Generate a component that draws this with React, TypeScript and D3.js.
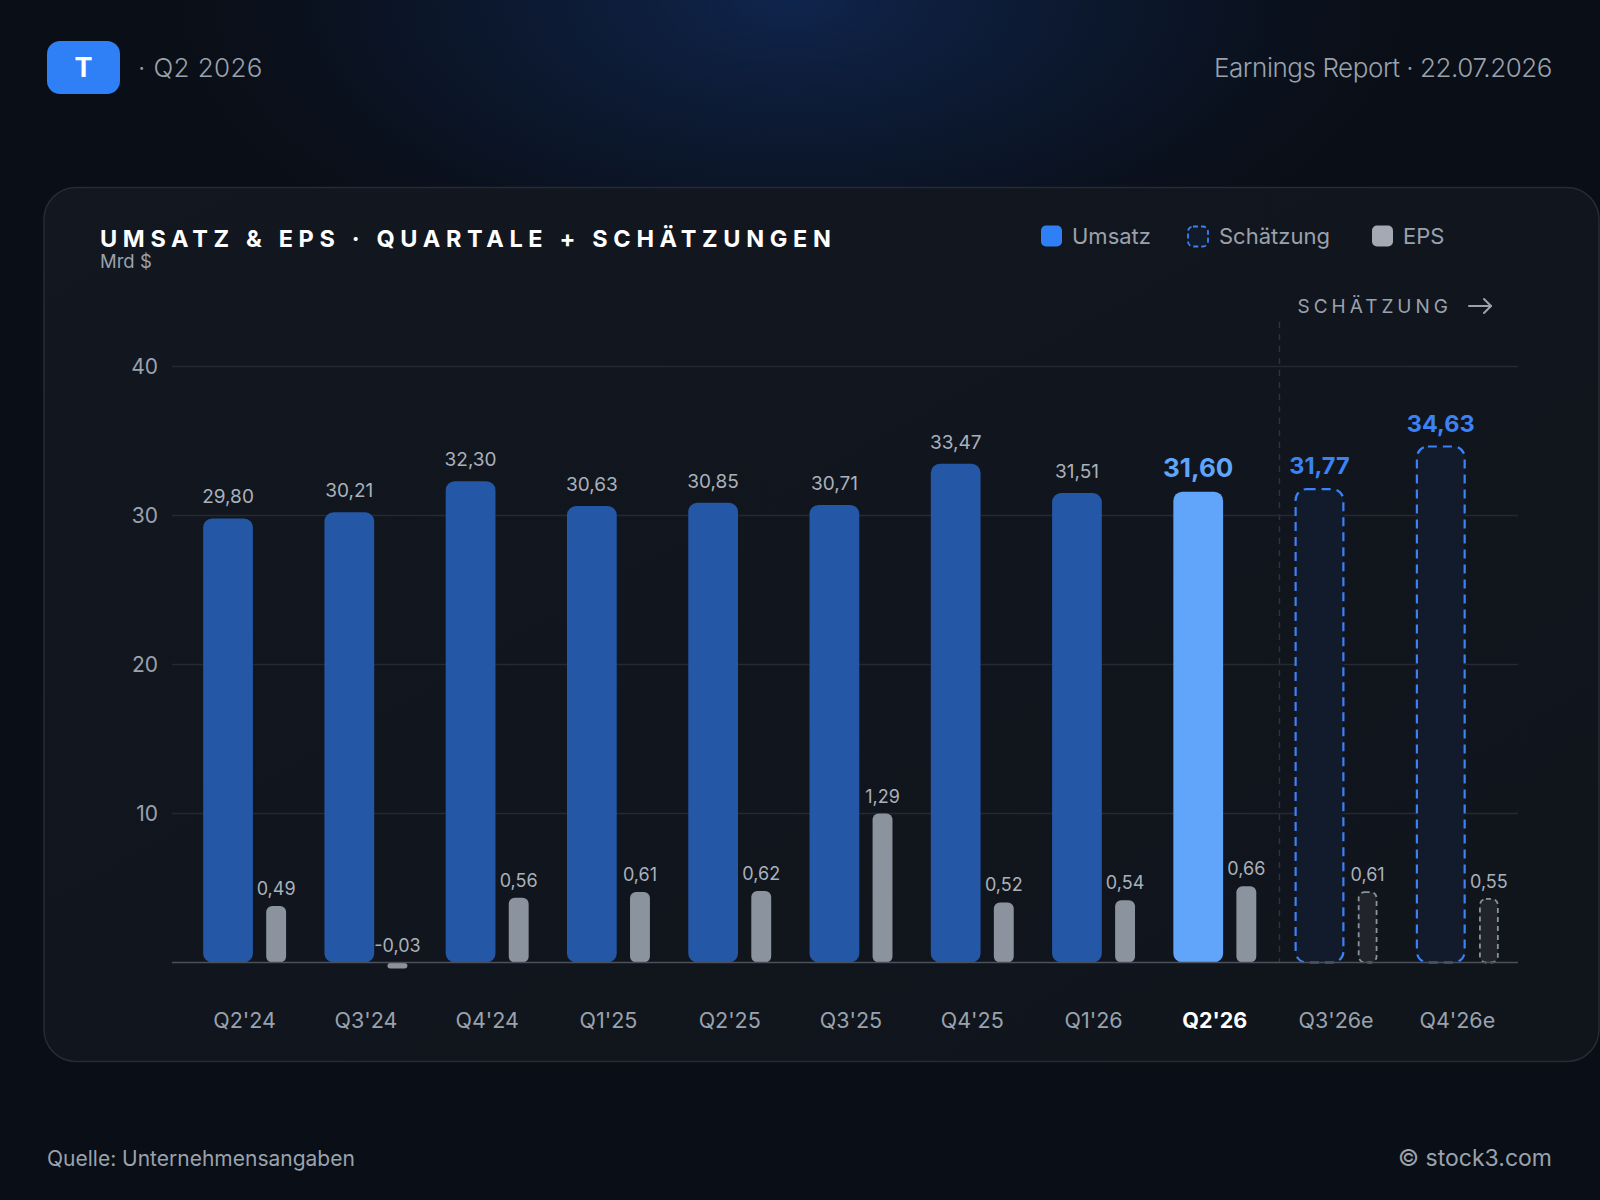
import React from "react";
import * as d3 from "d3";

// Quarterly revenue (Mrd $) and EPS, last two quarters are estimates
const quarters = ["Q2'24", "Q3'24", "Q4'24", "Q1'25", "Q2'25", "Q3'25", "Q4'25", "Q1'26", "Q2'26", "Q3'26e", "Q4'26e"];
const revenue = [29.8, 30.21, 32.3, 30.63, 30.85, 30.71, 33.47, 31.51, 31.6, 31.77, 34.63];
const eps = [0.49, -0.03, 0.56, 0.61, 0.62, 1.29, 0.52, 0.54, 0.66, 0.61, 0.55];
const isEstimate = [false, false, false, false, false, false, false, false, false, true, true];
const currentQuarter = "Q2'26";
const yTicks = [10, 20, 30, 40];

const W = 1600;
const H = 1200;
const FONT = "Inter, 'Noto Sans', sans-serif";

const de = d3.formatLocale({ decimal: ",", thousands: ".", grouping: [3], currency: ["", " $"], minus: "-" });
const fmt = de.format(".2f");

const C = {
  bg: "#0a0e16",
  card: "#11151d",
  cardStroke: "#262b35",
  grid: "#242933",
  axis: "#4b505a",
  rev: "#2457a5",
  revNow: "#60a5fa",
  est: "#3b82f6",
  estFill: "#121b2b",
  eps: "#8b939e",
  epsEstFill: "#21242b",
  text: "#9aa2ad",
  label: "#aab1bb",
};

// rounded-rect path, all four corners
const roundRect = (x: number, y: number, w: number, h: number, r: number) => {
  const rr = Math.min(r, w / 2, h / 2);
  return `M${x + rr},${y}H${x + w - rr}A${rr},${rr} 0 0 1 ${x + w},${y + rr}V${y + h - rr}A${rr},${rr} 0 0 1 ${x + w - rr},${y + h}H${x + rr}A${rr},${rr} 0 0 1 ${x},${y + h - rr}V${y + rr}A${rr},${rr} 0 0 1 ${x + rr},${y}Z`;
};

const Chart = () => {
  const plot = { left: 172, right: 1518, top: 366.5, bottom: 962.5 };

  const x = d3
    .scaleBand<string>()
    .domain(quarters)
    .range([184, 1518])
    .paddingInner(0.316)
    .paddingOuter(0.158);

  const y = d3.scaleLinear().domain([0, 40]).range([plot.bottom, plot.top]);

  // EPS gets its own scale: the largest value fills a quarter of the plot height
  const epsMax = d3.max(eps) as number;
  const yEps = d3
    .scaleLinear()
    .domain([0, epsMax])
    .range([plot.bottom, plot.bottom - (plot.bottom - plot.top) * 0.25]);

  const bw = x.bandwidth();
  const revW = bw * 0.6;
  const epsW = bw * 0.24;
  const epsOff = bw - epsW;

  const firstEst = quarters[isEstimate.indexOf(true)];
  const sepX = (x(firstEst) as number) - (x.step() - bw) / 2 + 4;

  return (
    <svg width={W} height={H} style={{ position: "absolute", left: 0, top: 0, display: "block" }} fontFamily={FONT}>
      <defs>
        <radialGradient id="glow" gradientUnits="userSpaceOnUse" cx={790} cy={0} r={700} gradientTransform="translate(790,0) scale(1,0.5) translate(-790,0)">
          <stop offset="0%" stopColor="#102650" stopOpacity={0.95} />
          <stop offset="55%" stopColor="#0c1a33" stopOpacity={0.6} />
          <stop offset="100%" stopColor={C.bg} stopOpacity={0} />
        </radialGradient>
        <linearGradient id="cardFill" x1="0" y1="0" x2="1" y2="1">
          <stop offset="0%" stopColor="#121720" />
          <stop offset="100%" stopColor="#10141b" />
        </linearGradient>
      </defs>

      <rect width={W} height={H} fill={C.bg} />
      <rect width={W} height={H} fill="url(#glow)" />

      {/* header */}
      <rect x={47} y={41} width={73} height={53} rx={13} fill="#2f80f6" />
      <text x={83.5} y={77} textAnchor="middle" fill="#fff" fontSize={27} fontWeight={700}>T</text>
      <text x={138} y={77} fill={C.text} fontSize={26} fontWeight={300} letterSpacing={0.4}>· Q2 2026</text>
      <text x={1552} y={77} textAnchor="end" fill={C.text} fontSize={26} fontWeight={300} letterSpacing={-0.45}>Earnings Report · 22.07.2026</text>

      {/* card */}
      <rect x={44} y={187.5} width={1555} height={874} rx={32} fill="url(#cardFill)" stroke={C.cardStroke} strokeWidth={1.5} />

      <text x={100} y={246.5} fill="#fff" fontSize={23.5} fontWeight={700} letterSpacing={5.65}>
        UMSATZ &amp; EPS · QUARTALE + SCHÄTZUNGEN
      </text>
      <text x={100} y={268} fill={C.text} fontSize={18.5}>Mrd $</text>

      {/* legend */}
      <g fontSize={22} fill={C.text}>
        <rect x={1041} y={225.5} width={21} height={21} rx={5} fill="#2f80f6" />
        <text x={1072} y={244}>Umsatz</text>
        <rect x={1188} y={226.5} width={20} height={20} rx={5} fill={C.estFill} stroke={C.est} strokeWidth={1.8} strokeDasharray="5,3" />
        <text x={1219} y={244}>Schätzung</text>
        <rect x={1372} y={225.5} width={21} height={21} rx={5} fill="#a3aab4" />
        <text x={1403} y={244}>EPS</text>
      </g>

      {/* estimate marker */}
      <text x={1452} y={313} textAnchor="end" fill={C.text} fontSize={19} letterSpacing={4.0}>SCHÄTZUNG</text>
      <g stroke={C.text} strokeWidth={2} fill="none" strokeLinecap="round" strokeLinejoin="round">
        <path d="M1469,306H1491" />
        <path d="M1484,299L1491,306L1484,313" />
      </g>
      <line x1={sepX} x2={sepX} y1={322} y2={plot.bottom} stroke="#2e333d" strokeWidth={1.5} strokeDasharray="6,6" />

      {/* grid + y ticks */}
      {yTicks.map((t) => (
        <g key={t}>
          <line x1={plot.left} x2={plot.right} y1={y(t)} y2={y(t)} stroke={C.grid} strokeWidth={1.5} />
          <text x={158} y={y(t)} dy="0.35em" textAnchor="end" fill={C.text} fontSize={21}>{t}</text>
        </g>
      ))}

      {/* bars */}
      {quarters.map((q, i) => {
        const x0 = x(q) as number;
        const est = isEstimate[i];
        const now = q === currentQuarter;
        const top = y(revenue[i]);
        const eTop = yEps(Math.max(0, eps[i]));
        const eH = Math.max(Math.abs(yEps(eps[i]) - yEps(0)), 5.5);
        const eY = eps[i] >= 0 ? eTop : plot.bottom + 0.5;
        const epsLabelY = (eps[i] >= 0 ? eTop : plot.bottom) - 11;
        return (
          <g key={q}>
            {est ? (
              <path d={roundRect(x0 + 1, top, revW - 2, plot.bottom - top, 11)} fill={C.estFill} stroke={C.est} strokeWidth={2.2} strokeDasharray="9,6" />
            ) : (
              <path d={roundRect(x0, top, revW, plot.bottom - top, 9)} fill={now ? C.revNow : C.rev} />
            )}
            <text
              x={x0 + revW / 2}
              y={top - 15}
              textAnchor="middle"
              fill={now ? C.revNow : est ? C.est : C.label}
              fontSize={now ? 26 : est ? 23.5 : 19}
              fontWeight={now || est ? 700 : 400}
            >
              {fmt(revenue[i])}
            </text>

            {est ? (
              <path d={roundRect(x0 + epsOff + 1, eY, epsW - 2, eH, 6)} fill={C.epsEstFill} stroke={C.eps} strokeWidth={1.8} strokeDasharray="5,4" />
            ) : (
              <path d={roundRect(x0 + epsOff, eY, epsW, eH, eps[i] < 0 ? 3 : 6)} fill={C.eps} />
            )}
            <text x={x0 + epsOff + epsW / 2} y={epsLabelY} textAnchor="middle" fill={C.label} fontSize={18}>
              {fmt(eps[i])}
            </text>

            <text
              x={x0 + bw / 2}
              y={1028}
              textAnchor="middle"
              fill={now ? "#fff" : C.text}
              fontSize={21.5}
              fontWeight={now ? 700 : 400}
            >
              {q}
            </text>
          </g>
        );
      })}

      <line x1={plot.left} x2={plot.right} y1={plot.bottom} y2={plot.bottom} stroke={C.axis} strokeWidth={1.5} />

      {/* footer */}
      <text x={47} y={1166} fill={C.text} fontSize={21}>Quelle: Unternehmensangaben</text>
      <text x={1552} y={1166} textAnchor="end" fill={C.text} fontSize={23}>© stock3.com</text>
    </svg>
  );
};

export default function App() {
  return <Chart />;
}
